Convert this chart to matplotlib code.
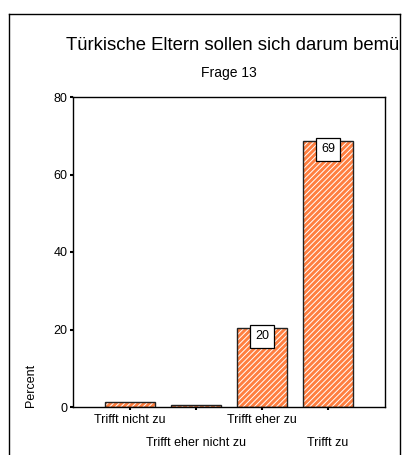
import matplotlib
matplotlib.use("Agg")
import matplotlib.pyplot as plt
from matplotlib.lines import Line2D
from matplotlib.transforms import Bbox

plt.rcParams["font.family"] = ["Liberation Sans", "DejaVu Sans"]
plt.rcParams["hatch.color"] = "white"
plt.rcParams["hatch.linewidth"] = 0.7

categories = ["Trifft nicht zu", "Trifft eher nicht zu", "Trifft eher zu", "Trifft zu"]
percent = [1.2, 0.4, 20.3, 68.6]
shown_labels = ["", "", "20", "69"]
yticks = [0, 20, 40, 60, 80]

TITLE = "Türkische Eltern sollen sich darum bemühen, dass ihre Kinder gut Deutsch lernen"
SUBTITLE = "Frage 13"
ORANGE = "#ff7f40"

fig = plt.figure(figsize=(4.05, 4.55), dpi=100)
ax = fig.add_axes([73 / 405, 1 - 407 / 455, 312 / 405, 310 / 455])

x = list(range(len(categories)))
ax.bar(x, percent, width=0.76, color=ORANGE, hatch="//////", linewidth=0)
ax.bar(x, percent, width=0.76, fill=False, edgecolor="#222222", linewidth=1.0)

for xi, v, lab in zip(x, percent, shown_labels):
    if lab:
        ax.annotate(lab, (xi, v), xytext=(0, -1.5), textcoords="offset points",
                    ha="center", va="top", fontsize=9,
                    bbox=dict(boxstyle="square,pad=0.42", fc="white", ec="black", lw=0.9))

ax.set_xlim(-0.864, 3.864)
ax.set_ylim(0, 80)
ax.set_yticks(yticks)
ax.set_xticks(x)
ax.set_xticklabels(categories, fontsize=9)
ax.tick_params(axis="y", length=2, width=1.5, labelsize=9, pad=2)
ax.tick_params(axis="x", length=2, width=1.5, labelsize=9, pad=3)
# staggered category labels
for i, tick in enumerate(ax.xaxis.get_major_ticks()):
    if i % 2 == 1:
        tick.set_pad(19.5)
for s in ax.spines.values():
    s.set_linewidth(1.0)
ax.set_ylabel("Percent", fontsize=9)
ax.yaxis.set_label_coords(-0.115, 0.07)

# title, clipped by the outer frame
t = fig.text(66 / 405, 1 - 45 / 455, TITLE, fontsize=13.3, ha="left", va="center")
t.set_clip_box(Bbox.from_extents(0, 0, 400, 455))
t.set_clip_on(True)
fig.text(229 / 405, 1 - 73 / 455, SUBTITLE, fontsize=10, ha="center", va="center")

# outer frame (open at the bottom)
fy = 1 - 14 / 455
fig.add_artist(Line2D([9 / 405, 9 / 405], [0, fy], color="black", lw=1.0))
fig.add_artist(Line2D([400 / 405, 400 / 405], [0, fy], color="black", lw=1.0))
fig.add_artist(Line2D([9 / 405, 400 / 405], [fy, fy], color="black", lw=1.0))

fig.savefig("out.png", dpi=100)
